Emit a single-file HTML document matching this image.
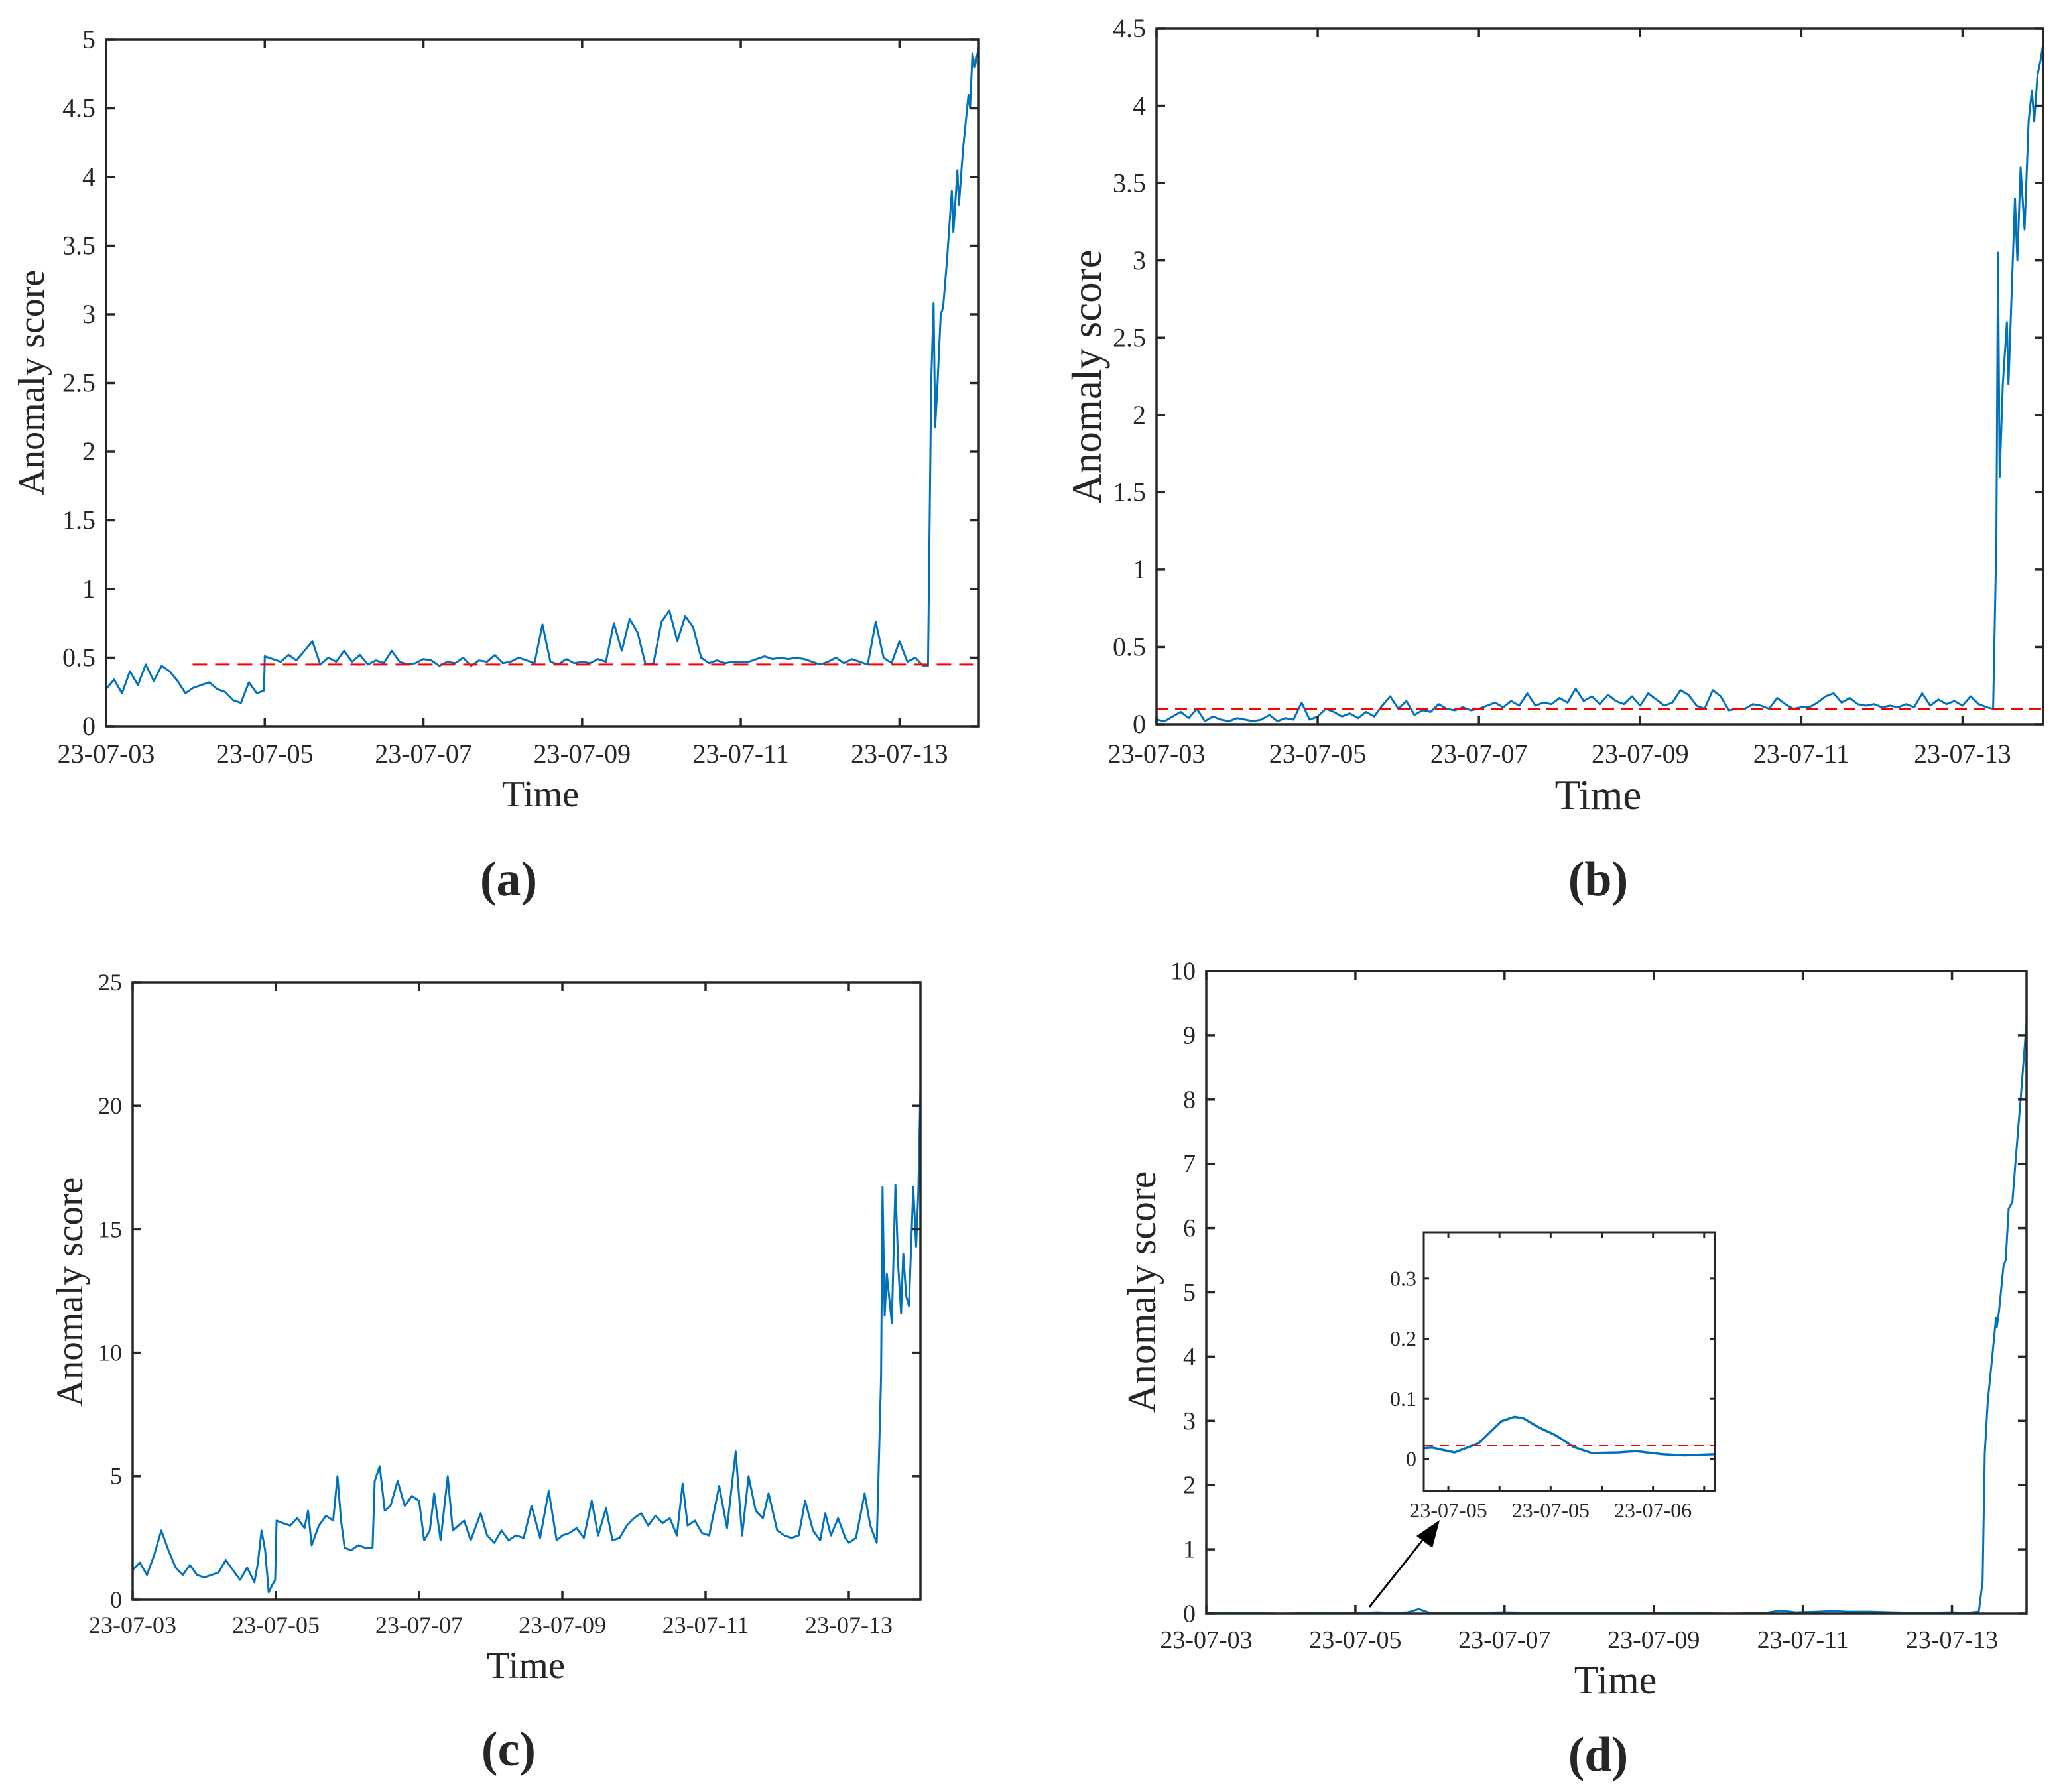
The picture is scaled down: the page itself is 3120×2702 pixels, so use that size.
<!DOCTYPE html>
<html><head><meta charset="utf-8">
<style>
html,body{margin:0;padding:0;background:#fff;}
svg{display:block;}
text{font-family:"Liberation Serif",serif;fill:#262626;}
</style></head>
<body>
<svg id="fig" xmlns="http://www.w3.org/2000/svg" width="3120" height="2702" viewBox="0 0 3120 2702" font-family="Liberation Serif, serif"></svg>
<script>
// ---------- data (days since 23-07-03 00:00) ----------
const xTickLabels = ["23-07-03","23-07-05","23-07-07","23-07-09","23-07-11","23-07-13"];
const xTickDays = [0,2,4,6,8,10];

const aTicks = [0,0.5,1,1.5,2,2.5,3,3.5,4,4.5,5];
const aThreshold = 0.45;
const aThresholdStart = 1.09;
const aTimes = [0,0.1,0.2,0.3,0.4,0.5,0.6,0.7,0.8,0.9,1.0,1.1,1.2,1.3,1.4,1.5,1.6,1.7,1.8,1.9,1.99,2.0,2.1,2.2,2.3,2.4,2.5,2.6,2.7,2.8,2.9,3.0,3.1,3.2,3.3,3.4,3.5,3.6,3.7,3.8,3.9,4.0,4.1,4.2,4.3,4.4,4.5,4.6,4.7,4.8,4.9,5.0,5.1,5.2,5.3,5.4,5.5,5.6,5.7,5.8,5.9,6.0,6.1,6.2,6.3,6.4,6.5,6.6,6.7,6.8,6.9,7.0,7.1,7.2,7.3,7.4,7.5,7.6,7.7,7.8,7.9,8.0,8.1,8.2,8.3,8.4,8.5,8.6,8.7,8.8,8.9,9.0,9.1,9.2,9.3,9.4,9.5,9.6,9.7,9.8,9.9,10.0,10.1,10.2,10.3,10.36,10.4,10.43,10.45,10.48,10.52,10.55,10.6,10.66,10.68,10.73,10.75,10.8,10.87,10.89,10.92,10.95,11.0];
const aScores = [0.27,0.34,0.24,0.40,0.30,0.45,0.33,0.44,0.40,0.33,0.24,0.28,0.30,0.32,0.27,0.25,0.19,0.17,0.32,0.24,0.26,0.51,0.49,0.47,0.52,0.48,0.55,0.62,0.45,0.50,0.47,0.55,0.47,0.52,0.45,0.48,0.46,0.55,0.47,0.45,0.46,0.49,0.48,0.44,0.47,0.46,0.50,0.44,0.48,0.47,0.52,0.46,0.47,0.50,0.48,0.46,0.74,0.47,0.45,0.49,0.46,0.47,0.46,0.49,0.47,0.75,0.55,0.78,0.68,0.45,0.46,0.76,0.84,0.62,0.80,0.72,0.50,0.46,0.48,0.46,0.47,0.47,0.47,0.49,0.51,0.49,0.50,0.49,0.50,0.49,0.47,0.45,0.47,0.50,0.46,0.49,0.47,0.45,0.76,0.50,0.46,0.62,0.47,0.50,0.44,0.44,2.5,3.08,2.18,2.5,3.0,3.05,3.4,3.9,3.6,4.05,3.8,4.2,4.6,4.5,4.9,4.8,4.95];

const bTicks = [0,0.5,1,1.5,2,2.5,3,3.5,4,4.5];
const bThreshold = 0.1;
const bTimes = [0,0.1,0.2,0.3,0.4,0.5,0.6,0.7,0.8,0.9,1.0,1.1,1.2,1.3,1.4,1.5,1.6,1.7,1.8,1.9,2.0,2.1,2.2,2.3,2.4,2.5,2.6,2.7,2.8,2.9,3.0,3.1,3.2,3.3,3.4,3.5,3.6,3.7,3.8,3.9,4.0,4.1,4.2,4.3,4.4,4.5,4.6,4.7,4.8,4.9,5.0,5.1,5.2,5.3,5.4,5.5,5.6,5.7,5.8,5.9,6.0,6.1,6.2,6.3,6.4,6.5,6.6,6.7,6.8,6.9,7.0,7.1,7.2,7.3,7.4,7.5,7.6,7.7,7.8,7.9,8.0,8.1,8.2,8.3,8.4,8.5,8.6,8.7,8.8,8.9,9.0,9.1,9.2,9.3,9.4,9.5,9.6,9.7,9.8,9.9,10.0,10.1,10.2,10.3,10.38,10.42,10.44,10.46,10.5,10.55,10.57,10.65,10.68,10.72,10.77,10.82,10.86,10.89,10.93,10.97,11.0];
const bScores = [0.03,0.02,0.05,0.08,0.04,0.10,0.02,0.05,0.03,0.02,0.04,0.03,0.02,0.03,0.06,0.02,0.04,0.03,0.14,0.03,0.05,0.10,0.08,0.05,0.07,0.04,0.08,0.05,0.12,0.18,0.10,0.15,0.06,0.09,0.08,0.13,0.10,0.09,0.11,0.09,0.10,0.12,0.14,0.11,0.15,0.12,0.20,0.12,0.14,0.13,0.17,0.14,0.23,0.15,0.18,0.13,0.19,0.15,0.13,0.18,0.12,0.20,0.16,0.12,0.14,0.22,0.19,0.12,0.10,0.22,0.18,0.09,0.10,0.10,0.13,0.12,0.10,0.17,0.13,0.10,0.11,0.11,0.14,0.18,0.20,0.14,0.17,0.13,0.12,0.13,0.11,0.12,0.11,0.13,0.11,0.20,0.12,0.16,0.13,0.15,0.12,0.18,0.13,0.11,0.10,1.2,3.05,1.6,2.2,2.6,2.2,3.4,3.0,3.6,3.2,3.9,4.1,3.9,4.2,4.3,4.4];

const cTicks = [0,5,10,15,20,25];
const cTimes = [0,0.1,0.2,0.3,0.4,0.5,0.6,0.7,0.8,0.9,1.0,1.1,1.2,1.3,1.4,1.5,1.6,1.7,1.75,1.8,1.85,1.9,1.95,1.99,2.01,2.1,2.2,2.3,2.4,2.45,2.5,2.6,2.7,2.8,2.86,2.91,2.96,3.05,3.15,3.25,3.35,3.38,3.45,3.52,3.6,3.7,3.8,3.9,4.0,4.07,4.15,4.21,4.3,4.4,4.47,4.55,4.63,4.72,4.86,4.95,5.05,5.15,5.25,5.35,5.46,5.57,5.69,5.81,5.92,6.0,6.1,6.2,6.3,6.41,6.5,6.61,6.7,6.8,6.9,7.0,7.1,7.2,7.3,7.4,7.5,7.6,7.68,7.75,7.85,7.95,8.05,8.19,8.3,8.42,8.51,8.6,8.7,8.8,8.88,9.0,9.1,9.2,9.3,9.39,9.5,9.6,9.67,9.75,9.85,9.95,10.0,10.1,10.22,10.3,10.39,10.45,10.47,10.5,10.53,10.6,10.65,10.69,10.73,10.76,10.8,10.84,10.9,10.94,10.97,11.0];
const cScores = [1.2,1.5,1.0,1.8,2.8,2.0,1.3,1.0,1.4,1.0,0.9,1.0,1.1,1.6,1.2,0.8,1.3,0.7,1.5,2.8,2.0,0.3,0.6,0.8,3.2,3.1,3.0,3.3,2.9,3.6,2.2,3.0,3.4,3.2,5.0,3.2,2.1,2.0,2.2,2.1,2.1,4.8,5.4,3.6,3.8,4.8,3.8,4.2,4.0,2.4,2.8,4.3,2.4,5.0,2.8,3.0,3.2,2.4,3.5,2.6,2.3,2.8,2.4,2.6,2.5,3.8,2.5,4.4,2.4,2.6,2.7,2.9,2.5,4.0,2.6,3.7,2.4,2.5,3.0,3.3,3.5,3.0,3.4,3.1,3.3,2.6,4.7,3.0,3.2,2.7,2.6,4.6,2.9,6.0,2.6,5.0,3.6,3.3,4.3,2.8,2.6,2.5,2.6,4.0,2.8,2.4,3.5,2.6,3.3,2.5,2.3,2.5,4.3,3.0,2.3,9.0,16.7,11.5,13.2,11.2,16.8,13.5,11.6,14.0,12.3,11.9,16.7,14.3,16.5,20.7];

const dTicks = [0,1,2,3,4,5,6,7,8,9,10];
const dTimes = [0,0.5,1.0,1.5,2.0,2.3,2.5,2.7,2.85,3.0,3.5,4.0,4.5,5.0,5.5,6.0,6.5,7.0,7.5,7.7,7.9,8.2,8.4,8.6,8.9,9.2,9.6,10.0,10.2,10.36,10.41,10.44,10.48,10.54,10.59,10.6,10.63,10.69,10.72,10.76,10.81,10.85,10.92,11.0];
const dScores = [0.01,0.01,0.0,0.01,0.01,0.02,0.01,0.02,0.07,0.01,0.01,0.02,0.01,0.01,0.01,0.01,0.01,0.0,0.01,0.05,0.02,0.03,0.04,0.03,0.03,0.02,0.01,0.02,0.01,0.03,0.5,2.5,3.3,4.0,4.6,4.45,4.7,5.4,5.5,6.3,6.4,7.0,8.0,9.2];

// inset (x in tick-index units)
const insetTickLabels = ["23-07-05","","23-07-05","","23-07-06",""];
const insetTickPos = [0,1,2,3,4,5];
const insetYTicks = [0,0.1,0.2,0.3];
const insetThreshold = 0.022;
const insetTimes = [-0.49,-0.32,0.12,0.59,1.03,1.29,1.46,1.76,2.11,2.45,2.80,3.32,3.67,4.19,4.62,5.22];
const insetScores = [0.018,0.019,0.011,0.026,0.0625,0.070,0.068,0.053,0.039,0.020,0.010,0.011,0.013,0.008,0.006,0.008];

// ---------- rendering ----------
const NS = "http://www.w3.org/2000/svg";
const svg = document.getElementById("fig");
const SERIF = "Liberation Serif, serif";
function mk(tag, attrs, parent){
  const e = document.createElementNS(NS, tag);
  for (const k in attrs) e.setAttribute(k, attrs[k]);
  if (tag === "text") e.setAttribute("font-family", SERIF);
  (parent||svg).appendChild(e);
  return e;
}
const BLUE = "#0072BD", AX = "#262626";

function panel(p){
  const g = mk("g", {});
  
  
  const sx = d => p.l + (d - p.x0) / (p.x1 - p.x0) * (p.r - p.l);
  const sy = v => p.b - (v - p.y0) / (p.y1 - p.y0) * (p.b - p.t);
  const tl = p.tickLen || 13;
  const pts = p.times.map((t,i)=> sx(t).toFixed(1)+","+sy(p.scores[i]).toFixed(1)).join(" ");
  const line = mk("polyline", {points:pts, fill:"none", stroke:BLUE, "stroke-width":p.lw||3, "stroke-linejoin":"round"}, g);
  
  
  if (p.thr !== undefined){
    const th = mk("line", {x1:sx(p.thrStart!==undefined?p.thrStart:p.x0), x2:p.r, y1:sy(p.thr), y2:sy(p.thr), stroke:"#FF0000", "stroke-width":p.thrW||3, "stroke-dasharray":p.dash||"22,12"}, g);
    
    
  }
  const box = mk("rect", {x:p.l, y:p.t, width:p.r-p.l, height:p.b-p.t, fill:"none", stroke:AX, "stroke-width":p.aw||3.5}, g);
  
  
  p.yTicks.forEach(v=>{
    const y = sy(v);
    mk("line",{x1:p.l,x2:p.l+tl,y1:y,y2:y,stroke:AX,"stroke-width":p.aw||3.5},g);
    mk("line",{x1:p.r,x2:p.r-tl,y1:y,y2:y,stroke:AX,"stroke-width":p.aw||3.5},g);
    const tx = mk("text",{x:p.ylx, y:y+p.fs*0.33, "font-size":p.fs, "text-anchor":"end"},g);
    tx.textContent = String(v);
    
    
  });
  p.xTickPos.forEach((d,i)=>{
    const x = sx(d);
    mk("line",{x1:x,x2:x,y1:p.b,y2:p.b-tl,stroke:AX,"stroke-width":p.aw||3.5},g);
    mk("line",{x1:x,x2:x,y1:p.t,y2:p.t+tl,stroke:AX,"stroke-width":p.aw||3.5},g);
    if (p.xTickLabels[i]){
      const tx = mk("text",{x:x, y:p.xly, "font-size":p.fs, "text-anchor":"middle"},g);
      tx.textContent = p.xTickLabels[i];
      
      
    }
  });
  if (p.xTitle){
    const xt = mk("text",{x:p.xtx, y:p.xty, "font-size":p.tfs, "text-anchor":"middle"},g);
    xt.textContent = "Time";
    
    
    const yt = mk("text",{x:0, y:0, "font-size":p.tfs, "text-anchor":"middle", transform:`translate(${p.ytx},${p.yty}) rotate(-90)`},g);
    yt.textContent = "Anomaly score";
    
    
    const cap = mk("text",{x:p.capx, y:p.capy, "font-size":74, "text-anchor":"middle", "font-weight":"bold"},g);
    cap.textContent = p.cap;
    
    
  }
  return g;
}

panel({name:"panel-a", l:160,r:1476,t:60,b:1095, x0:0,x1:11,y0:0,y1:5, times:aTimes, scores:aScores,
  thr:aThreshold, thrStart:aThresholdStart, yTicks:aTicks, xTickPos:xTickDays, xTickLabels:xTickLabels,
  fs:40, ylx:144, xly:1150, xTitle:true, tfs:56, xtx:815, xty:1216, ytx:66, yty:577, cap:"(a)", capx:767, capy:1350});

panel({name:"panel-b", l:1744,r:3081,t:43,b:1092, x0:0,x1:11,y0:0,y1:4.5, times:bTimes, scores:bScores,
  thr:bThreshold, yTicks:bTicks, xTickPos:xTickDays, xTickLabels:xTickLabels, thrW:2.5, dash:"18,10",
  fs:40, ylx:1728, xly:1150, xTitle:true, tfs:63, xtx:2410, xty:1220, ytx:1660, yty:568, cap:"(b)", capx:2410, capy:1350});

panel({name:"panel-c", l:200,r:1388,t:1481,b:2412, x0:0,x1:11,y0:0,y1:25, times:cTimes, scores:cScores,
  yTicks:cTicks, xTickPos:xTickDays, xTickLabels:xTickLabels,
  fs:36, ylx:184, xly:2462, xTitle:true, tfs:57, xtx:793, xty:2530, ytx:124, yty:1948, cap:"(c)", capx:767, capy:2662});

panel({name:"panel-d", l:1819,r:3056,t:1464,b:2433, x0:0,x1:11,y0:0,y1:10, times:dTimes, scores:dScores,
  yTicks:dTicks, xTickPos:xTickDays, xTickLabels:xTickLabels,
  fs:38, ylx:1803, xly:2485, xTitle:true, tfs:60, xtx:2436, xty:2553, ytx:1742, yty:1948, cap:"(d)", capx:2410, capy:2670});

const insetBg = mk("rect",{x:2147,y:1858,width:439,height:390,fill:"#fff"});


panel({name:"zoom-inset", l:2147,r:2586,t:1858,b:2248, x0:-0.48,x1:5.21,y0:-0.053,y1:0.377, times:insetTimes, scores:insetScores,
  thr:insetThreshold, yTicks:insetYTicks, xTickPos:insetTickPos, xTickLabels:insetTickLabels, thrW:2, dash:"14,10",
  fs:32, ylx:2136, xly:2288, tickLen:8, aw:3, lw:3.5});

const arrow = mk("g",{});


mk("line",{x1:2065,y1:2423,x2:2155,y2:2310,stroke:"#000","stroke-width":3},arrow);
mk("polygon",{points:"2171,2292 2160,2334 2136,2316",fill:"#000"},arrow);
</script>
</body></html>
